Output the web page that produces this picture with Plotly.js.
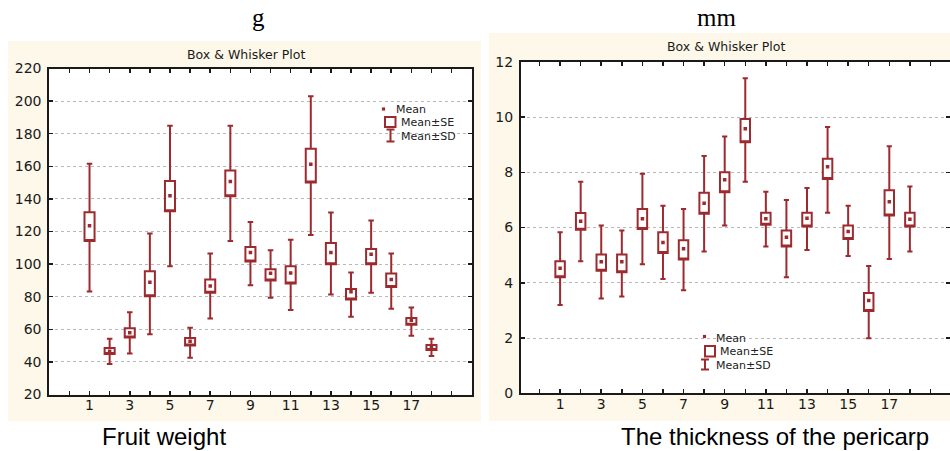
<!DOCTYPE html>
<html>
<head>
<meta charset="utf-8">
<script src="https://cdn.plot.ly/plotly-3.0.1.min.js"></script>
<style>html,body{margin:0;padding:0;background:#fff;}#chart{width:950px;height:451px;}</style>
</head>
<body>
<div id="chart"></div>
<script>
// ---- data ----
var categories = [1,2,3,4,5,6,7,8,9,10,11,12,13,14,15,16,17,18];

// Fruit weight (g)
var fwMean   = [123.6, 46.5, 57.9, 88.9, 142.0, 52.6, 86.6, 150.6, 107.1, 94.4, 94.6, 161.2, 107.1, 83.0, 106.1, 90.6, 65.6, 48.9];
var fwSeLow  = [114.2, 44.8, 55.0, 80.3, 132.4, 50.1, 82.4, 141.6, 101.6, 90.0, 88.1, 150.0, 99.9, 78.3, 99.9, 86.0, 62.8, 47.3];
var fwSeHigh = [131.8, 48.5, 60.7, 95.6, 151.0, 54.6, 90.6, 157.5, 110.5, 96.9, 98.7, 170.8, 113.0, 84.8, 109.3, 94.2, 66.9, 50.3];
var fwSdLow  = [83.2, 38.7, 45.2, 57.0, 98.7, 42.5, 66.7, 114.2, 87.0, 79.3, 71.8, 117.9, 81.4, 67.7, 82.4, 72.6, 56.0, 43.6];
var fwSdHigh = [161.6, 54.2, 70.5, 118.7, 184.9, 60.9, 106.5, 184.9, 125.9, 108.5, 115.0, 203.0, 131.6, 94.9, 126.7, 106.5, 73.4, 54.2];

// Pericarp thickness (mm)
var ptMean   = [4.53, 6.23, 4.76, 4.76, 6.32, 5.46, 5.23, 6.88, 7.73, 9.58, 6.32, 5.65, 6.34, 8.20, 5.86, 3.36, 6.93, 6.30];
var ptSeLow  = [4.20, 5.92, 4.44, 4.38, 5.95, 5.08, 4.84, 6.50, 7.28, 9.09, 6.10, 5.31, 6.04, 7.76, 5.59, 2.98, 6.44, 6.04];
var ptSeHigh = [4.78, 6.53, 5.02, 5.02, 6.67, 5.83, 5.54, 7.26, 8.00, 9.93, 6.54, 5.89, 6.54, 8.49, 6.07, 3.63, 7.35, 6.54];
var ptSdLow  = [3.20, 4.78, 3.43, 3.50, 4.67, 4.14, 3.73, 5.13, 6.07, 7.66, 5.31, 4.20, 5.19, 6.54, 4.97, 1.99, 4.86, 5.13];
var ptSdHigh = [5.83, 7.66, 6.07, 5.89, 7.95, 6.79, 6.67, 8.59, 9.30, 11.40, 7.30, 7.00, 7.43, 9.64, 6.79, 4.61, 8.94, 7.49];

// tick labels
var xTickVals = [0,1,2,3,4,5,6,7,8,9,10,11,12,13,14,15,16,17,18,19];
var xTickText = ['', '1', '', '3', '', '5', '', '7', '', '9', '', '11', '', '13', '', '15', '', '17', '', ''];
var fwTickVals = [20,40,60,80,100,120,140,160,180,200,220];
var ptTickVals = [0,2,4,6,8,10,12];

var titleText = 'Box & Whisker Plot';
var legendLabels = ['Mean', 'Mean±SE', 'Mean±SD'];
var unitLabels = ['g', 'mm'];
var captions = ['Fruit weight', 'The thickness of the pericarp'];

// ---- styling ----
var W = 950, H = 451;
var RED = '#9c2a2e';
var BEIGE = '#fdf8e9';
var INK = '#1a1a1a';
function px(x){ return x / W; }
function py(y){ return 1 - y / H; }

var L = {x0: 49.3, x1: 471.7, y0: 68.5, y1: 394.5};
var R = {x0: 521, x1: 950, y0: 61.8, y1: 393.3};

function boxTrace(xa, ya, lo, hi, sdlo, sdhi, w){
  return {
    type: 'box', orientation: 'v', x: categories,
    q1: lo, median: lo, q3: hi, lowerfence: sdlo, upperfence: sdhi,
    width: w, whiskerwidth: 0.55, fillcolor: '#ffffff',
    line: {color: RED, width: 2}, boxpoints: false,
    xaxis: xa, yaxis: ya, hoverinfo: 'skip', showlegend: false
  };
}
function meanTrace(xa, ya, m){
  return {
    type: 'scatter', mode: 'markers', x: categories, y: m,
    marker: {symbol: 'square', size: 3.5, color: RED},
    xaxis: xa, yaxis: ya, hoverinfo: 'skip', showlegend: false
  };
}

var data = [
  boxTrace('x', 'y', fwSeLow, fwSeHigh, fwSdLow, fwSdHigh, 0.5),
  meanTrace('x', 'y', fwMean),
  boxTrace('x2', 'y2', ptSeLow, ptSeHigh, ptSdLow, ptSdHigh, 0.46),
  meanTrace('x2', 'y2', ptMean)
];

function xAxis(dom, rng, anchor){
  return {
    domain: dom, range: rng, anchor: anchor,
    tickmode: 'array', tickvals: xTickVals, ticktext: xTickText,
    ticks: 'inside', ticklen: 4, tickwidth: 1.5, tickcolor: INK,
    showline: true, linewidth: 2, linecolor: INK, mirror: 'ticks',
    showgrid: false, zeroline: false, fixedrange: true,
    tickfont: {family: 'DejaVu Sans', size: 14, color: INK},
    ticklabelstandoff: -3
  };
}
function yAxis(dom, rng, vals, anchor){
  return {
    domain: dom, range: rng, anchor: anchor,
    tickmode: 'array', tickvals: vals,
    ticks: 'inside', ticklen: 4, tickwidth: 1.5, tickcolor: INK,
    showline: true, linewidth: 2, linecolor: INK, mirror: 'ticks',
    showgrid: true, gridcolor: '#b8b8b8', griddash: 'dot', gridwidth: 1,
    zeroline: false, fixedrange: true,
    tickfont: {family: 'DejaVu Sans', size: 14, color: INK},
    ticklabelstandoff: 3
  };
}

var shapes = [
  {type: 'rect', xref: 'paper', yref: 'paper', x0: px(8), x1: px(481), y0: py(41), y1: py(421.5), fillcolor: BEIGE, line: {width: 0}, layer: 'below'},
  {type: 'rect', xref: 'paper', yref: 'paper', x0: px(489), x1: px(950), y0: py(33), y1: py(421), fillcolor: BEIGE, line: {width: 0}, layer: 'below'},
  {type: 'rect', xref: 'paper', yref: 'paper', x0: px(L.x0), x1: px(L.x1), y0: py(L.y0), y1: py(L.y1), fillcolor: '#ffffff', line: {width: 0}, layer: 'below'},
  {type: 'rect', xref: 'paper', yref: 'paper', x0: px(R.x0), x1: px(R.x1), y0: py(R.y0), y1: py(R.y1), fillcolor: '#ffffff', line: {width: 0}, layer: 'below'}
];

var annotations = [];
function txt(t, x, y, size, xanchor, family, color, yanchor, h){
  var a = {text: t, xref: 'paper', yref: 'paper', x: px(x), y: py(y),
    xanchor: xanchor || 'center', yanchor: yanchor || 'middle', showarrow: false,
    borderpad: 0,
    font: {family: family || 'DejaVu Sans', size: size, color: color || INK}};
  if (h) { a.height = h; }
  annotations.push(a);
}

// legend builder (positions only)
function legend(o){
  shapes.push({type: 'rect', xref: 'paper', yref: 'paper', x0: px(o.dotX - 1.6), x1: px(o.dotX + 1.6), y0: py(o.dotY - 1.6), y1: py(o.dotY + 1.6), fillcolor: RED, line: {width: 0}});
  shapes.push({type: 'rect', xref: 'paper', yref: 'paper', x0: px(o.boxX0), x1: px(o.boxX1), y0: py(o.boxY0), y1: py(o.boxY1), fillcolor: '#ffffff', line: {color: RED, width: 2}});
  shapes.push({type: 'line', xref: 'paper', yref: 'paper', x0: px(o.barX), x1: px(o.barX), y0: py(o.barY0), y1: py(o.barY1), line: {color: RED, width: 2}});
  shapes.push({type: 'line', xref: 'paper', yref: 'paper', x0: px(o.barX - 4), x1: px(o.barX + 4), y0: py(o.barY0), y1: py(o.barY0), line: {color: RED, width: 2}});
  shapes.push({type: 'line', xref: 'paper', yref: 'paper', x0: px(o.barX - 4), x1: px(o.barX + 4), y0: py(o.barY1), y1: py(o.barY1), line: {color: RED, width: 2}});
  txt(legendLabels[0], o.t0x, o.t0y, 11, 'left', 'DejaVu Sans', '#222', 'middle', 12);
  txt(legendLabels[1], o.t1x, o.t1y, 11, 'left', 'DejaVu Sans', '#222', 'middle', 12);
  txt(legendLabels[2], o.t2x, o.t2y, 11, 'left', 'DejaVu Sans', '#222', 'middle', 12);
}
legend({dotX: 383.5, dotY: 109, boxX0: 385, boxX1: 395.5, boxY0: 117, boxY1: 127,
  barX: 390.5, barY0: 129.5, barY1: 141.5,
  t0x: 395, t0y: 108.5, t1x: 400, t1y: 122, t2x: 400, t2y: 135.5});
legend({dotX: 704.5, dotY: 336.5, boxX0: 705, boxX1: 715, boxY0: 346, boxY1: 356.5,
  barX: 705, barY0: 359.5, barY1: 369.5,
  t0x: 715, t0y: 337.5, t1x: 718.5, t1y: 351, t2x: 715, t2y: 364.5});

txt(titleText, 246, 54.5, 12.5);
txt(titleText, 725.5, 46, 12.5);
txt(unitLabels[0], 258.7, 17, 25, 'center', 'Liberation Serif', '#000');
txt(unitLabels[1], 716, 17, 25, 'center', 'Liberation Serif', '#000');
txt(captions[0], 164.3, 451, 24, 'center', 'Liberation Sans', '#000', 'bottom');
txt(captions[1], 775, 451, 24, 'center', 'Liberation Sans', '#000', 'bottom');

var layout = {
  width: W, height: H, autosize: false,
  margin: {l: 0, r: 0, t: 0, b: 0, pad: 0},
  paper_bgcolor: '#ffffff', plot_bgcolor: '#ffffff',
  showlegend: false,
  xaxis: xAxis([px(L.x0), px(L.x1)], [-1, 20], 'y'),
  yaxis: yAxis([py(L.y1), py(L.y0)], [20, 220], fwTickVals, 'x'),
  xaxis2: xAxis([px(R.x0), px(R.x1)], [-0.9, 19.95], 'y2'),
  yaxis2: yAxis([py(R.y1), py(R.y0)], [0, 12], ptTickVals, 'x2'),
  shapes: shapes,
  annotations: annotations
};

Plotly.newPlot('chart', data, layout, {staticPlot: true, displayModeBar: false});
</script>
</body>
</html>
